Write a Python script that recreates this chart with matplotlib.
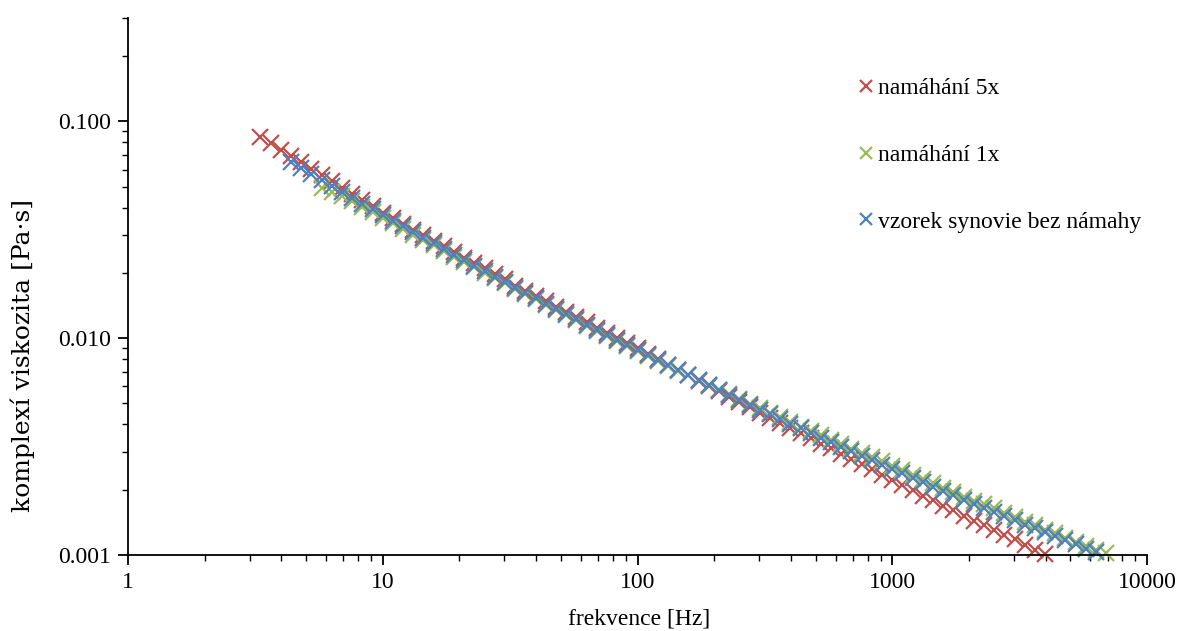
import matplotlib
matplotlib.use("Agg")
import matplotlib.pyplot as plt
import numpy as np
from matplotlib.ticker import LogLocator, FixedLocator, FixedFormatter, NullFormatter

nan = float("nan")

freq_hz = [3.311, 3.631, 3.981, 4.365, 4.786, 5.248, 5.754, 6.310, 6.918, 7.586,
           8.318, 9.120, 10.00, 10.96, 12.02, 13.18, 14.45, 15.85, 17.38, 19.05,
           20.89, 22.91, 25.12, 27.54, 30.20, 33.11, 36.31, 39.81, 43.65, 47.86,
           52.48, 57.54, 63.10, 69.18, 75.86, 83.18, 91.20, 100.0, 109.6, 120.2,
           131.8, 144.5, 158.5, 173.8, 190.5, 208.9, 229.1, 251.2, 275.4, 302.0,
           331.1, 363.1, 398.1, 436.5, 478.6, 524.8, 575.4, 631.0, 691.8, 758.6,
           831.8, 912.0, 1000, 1096, 1202, 1318, 1445, 1585, 1738, 1905,
           2089, 2291, 2512, 2754, 3020, 3311, 3631, 3981, 4365, 4786,
           5248, 5754, 6310, 6918]

visc_5x = [0.0850, 0.0794, 0.0741, 0.0692, 0.0647, 0.0604, 0.0566, 0.0529, 0.0495, 0.0464,
           0.0434, 0.0406, 0.0380, 0.0357, 0.0337, 0.0316, 0.0298, 0.0281, 0.0265, 0.0250,
           0.0235, 0.0222, 0.0210, 0.0197, 0.0187, 0.0175, 0.0166, 0.0157, 0.01481, 0.01400,
           0.01324, 0.01252, 0.01184, 0.01120, 0.01061, 0.01005, 0.00951, 0.00899, 0.00848, 0.00801,
           0.00756, 0.00713, 0.00673, 0.00636, 0.00601, 0.00568, 0.00537, 0.00508, 0.00480, 0.00454,
           0.00429, 0.00406, 0.00385, 0.00364, 0.00345, 0.00326, 0.00310, 0.00293, 0.00277, 0.00262,
           0.00248, 0.00234, 0.00222, 0.00211, 0.00199, 0.00188, 0.00179, 0.00169, 0.00161, 0.00152,
           0.00144, 0.00137, 0.00130, 0.00124, 0.00118, 0.00111, 0.00106, 0.00101, nan, nan,
           nan, nan, nan, nan]

visc_1x = [nan, nan, nan, nan, nan, nan, 0.0495, 0.0472, 0.0451, 0.0429,
           0.0405, 0.0381, 0.0360, 0.0339, 0.0320, 0.0300, 0.0283, 0.0268, 0.0252, 0.0238,
           0.0224, 0.0212, 0.0200, 0.0189, 0.0179, 0.0168, 0.0160, 0.0151, 0.01426, 0.01350,
           0.01278, 0.01209, 0.01144, 0.01084, 0.01027, 0.00974, 0.00923, 0.00875, 0.00830, 0.00788,
           0.00748, 0.00709, 0.00673, 0.00640, 0.00609, 0.00579, 0.00551, 0.00525, 0.00499, 0.00475,
           0.00452, 0.00431, 0.00411, 0.00391, 0.00374, 0.00356, 0.00340, 0.00324, 0.00309, 0.00296,
           0.00283, 0.00270, 0.00258, 0.00246, 0.00235, 0.00224, 0.00214, 0.00204, 0.00196, 0.00186,
           0.00178, 0.00171, 0.00164, 0.00156, 0.00149, 0.00142, 0.00137, 0.00131, 0.00126, 0.00120,
           0.00115, 0.00110, 0.00106, 0.00102]

visc_ref = [nan, nan, nan, 0.0647, 0.0608, 0.0570, 0.0536, 0.0503, 0.0473, 0.0445,
            0.0418, 0.0393, 0.0370, 0.0348, 0.0328, 0.0308, 0.0290, 0.0274, 0.0258, 0.0243,
            0.0229, 0.0216, 0.0204, 0.0192, 0.0182, 0.0171, 0.0162, 0.0153, 0.01445, 0.01366,
            0.01292, 0.01221, 0.01155, 0.01093, 0.01035, 0.00980, 0.00928, 0.00879, 0.00833, 0.00790,
            0.00749, 0.00710, 0.00673, 0.00639, 0.00607, 0.00576, 0.00547, 0.00520, 0.00494, 0.00469,
            0.00446, 0.00424, 0.00404, 0.00384, 0.00366, 0.00348, 0.00332, 0.00316, 0.00301, 0.00287,
            0.00274, 0.00261, 0.00249, 0.00238, 0.00227, 0.00216, 0.00207, 0.00197, 0.00189, 0.00180,
            0.00172, 0.00165, 0.00158, 0.00151, 0.00145, 0.00138, 0.00133, 0.00127, 0.00122, 0.00117,
            0.00112, 0.00107, 0.00103, nan]

series_labels = ["namáhání 5x", "namáhání 1x", "vzorek synovie bez námahy"]
series_colors = ["#C0504D", "#9BBB59", "#4F81BD"]
x_ticks = [1, 10, 100, 1000, 10000]
x_tick_labels = ["1", "10", "100", "1000", "10000"]
y_ticks = [0.001, 0.01, 0.1]
y_tick_labels = ["0.001", "0.010", "0.100"]

plt.rcParams['font.family'] = ['Liberation Serif', 'DejaVu Serif']

fig = plt.figure(figsize=(11.79, 6.31), dpi=100)
ax = fig.add_axes([128/1179, 76/631, (1147-128)/1179, (555-18)/631])

for yv, lab, col in zip([visc_5x, visc_1x, visc_ref], series_labels, series_colors):
    ax.plot(freq_hz, yv, linestyle='none', marker='x', markersize=12,
            markeredgewidth=1.6, color=col, label=lab, clip_on=False)

ax.set_xscale('log')
ax.set_yscale('log')
ax.set_xlim(1, 10000)
ax.set_ylim(0.001, 0.3)

for s in ['top', 'right']:
    ax.spines[s].set_visible(False)
for s in ['left', 'bottom']:
    ax.spines[s].set_linewidth(1.3)
    ax.spines[s].set_color('black')

ax.xaxis.set_major_locator(FixedLocator(x_ticks))
ax.xaxis.set_major_formatter(FixedFormatter(x_tick_labels))
ax.yaxis.set_major_locator(FixedLocator(y_ticks))
ax.yaxis.set_major_formatter(FixedFormatter(y_tick_labels))
ax.xaxis.set_minor_locator(LogLocator(base=10, subs=np.arange(2, 10), numticks=20))
ax.yaxis.set_minor_locator(LogLocator(base=10, subs=np.arange(2, 10), numticks=20))
ax.xaxis.set_minor_formatter(NullFormatter())
ax.yaxis.set_minor_formatter(NullFormatter())
ax.tick_params(which='major', direction='out', length=7, width=1.3, labelsize=17,
               colors='black', pad=5)
ax.tick_params(which='minor', direction='out', length=4, width=1.0)

ax.set_xlabel("frekvence [Hz]", fontsize=17)
ax.xaxis.set_label_coords(0.502, -0.100)
ax.set_ylabel("komplexí viskozita [Pa·s]", fontsize=18, family=['DejaVu Serif'])
ax.yaxis.set_label_coords(-0.091, 0.372)

leg = ax.legend(loc='upper left', bbox_to_anchor=(848/1179, 1 - 68/631),
                bbox_transform=fig.transFigure, frameon=False, fontsize=17,
                handlelength=0.7, handletextpad=0.15, labelspacing=1.92,
                markerscale=0.75, borderaxespad=0)

fig.savefig("out.png", dpi=100)
